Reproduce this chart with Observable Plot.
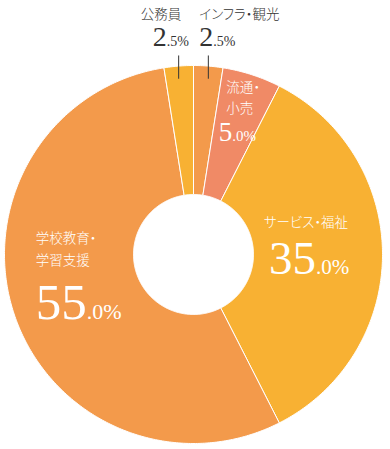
<!DOCTYPE html>
<html><head><meta charset="utf-8">
<script src="https://cdn.jsdelivr.net/npm/d3@7"></script>
<script src="https://cdn.jsdelivr.net/npm/@observablehq/plot@0.6"></script>
<style>body{margin:0;background:#fff}#chart svg{display:block}#chart text.jp{font-feature-settings:"palt"}</style>
</head><body><div id="chart"></div>
<script>
// ---- data ----
const categories = ["インフラ・観光", "流通・小売", "サービス・福祉", "学校教育・学習支援", "公務員"];
const values = [2.5, 5.0, 35.0, 55.0, 2.5];
const labelLines = [["インフラ・観光"], ["流通・", "小売"], ["サービス・福祉"], ["学校教育・", "学習支援"], ["公務員"]];
const colors = ["#F39A4B", "#F08A66", "#F8B133", "#F39A4B", "#F8B133"];

// ---- layout (not data) ----
const innerR = 60 / 189;
const layout = [
  {rho: 1.0, nameDx: -9, nameDy: -51, nameAnchor: "start", nameFill: "#333", numDx: 5, numDy: -20, big: 28, small: 14, numFill: "#333", leader: true},
  {rho: 0.75, nameDx: -11, nameDy: -32, nameAnchor: "start", nameFill: "#fff", numDx: -5, numDy: 21, big: 27, small: 15, numFill: "#fff", lineGap: 21},
  {rho: 0.6, nameDx: -1, nameDy: -32, nameAnchor: "middle", nameFill: "#fff", numDx: 9, numDy: 19, big: 47, small: 21, numFill: "#fff"},
  {rho: 0.6, nameDx: -50, nameDy: -51, nameAnchor: "start", nameFill: "#fff", numDx: 1, numDy: 29, big: 51, small: 22, numFill: "#fff", lineGap: 22},
  {rho: 1.0, nameDx: -38, nameDy: -51, nameAnchor: "start", nameFill: "#333", numDx: -12, numDy: -20, big: 28, small: 14, numFill: "#333", leader: true}
];

const arcs = d3.pie().sort(null).value(d => d)(values);
const polar = (a, r) => [r * Math.sin(a), r * Math.cos(a)];

// slice polygons
const slicePts = [];
arcs.forEach((arc, i) => {
  const n = Math.max(8, Math.ceil((arc.endAngle - arc.startAngle) * 80));
  const pts = [];
  for (let k = 0; k <= n; k++) pts.push(polar(arc.startAngle + (arc.endAngle - arc.startAngle) * k / n, 1));
  for (let k = n; k >= 0; k--) pts.push(polar(arc.startAngle + (arc.endAngle - arc.startAngle) * k / n, innerR));
  pts.push(pts[0]);
  pts.forEach(([x, y]) => slicePts.push({cat: categories[i], color: colors[i], x, y}));
});

// labels
const names = [], bigs = [], smalls = [], leaders = [];
arcs.forEach((arc, i) => {
  const L = layout[i];
  const mid = (arc.startAngle + arc.endAngle) / 2;
  const [x, y] = polar(mid, L.rho);
  labelLines[i].forEach((t, j) => names.push({x, y, t, dx: L.nameDx, dy: L.nameDy + j * (L.lineGap || 0), anchor: L.nameAnchor, fill: L.nameFill}));
  const v = values[i];
  bigs.push({x, y, t: String(Math.trunc(v)), dx: L.numDx, dy: L.numDy, size: L.big, fill: L.numFill});
  smalls.push({x, y, t: "." + v.toFixed(1).split(".")[1] + "%", dx: L.numDx, dy: L.numDy, size: L.small, fill: L.numFill});
  if (L.leader) leaders.push({x: Math.sin(mid), y1: 1.053, y2: 0.93});
});

const textMarks = [];
names.forEach(d => textMarks.push(Plot.text([d], {x: "x", y: "y", text: "t", dx: d.dx, dy: d.dy, textAnchor: d.anchor, fill: d.fill, fontSize: 13.5, fontWeight: 300, fontFamily: "'Noto Sans CJK JP', sans-serif", className: "jp"})));
bigs.forEach(d => textMarks.push(Plot.text([d], {x: "x", y: "y", text: "t", dx: d.dx, dy: d.dy, textAnchor: "end", lineAnchor: "bottom", fill: d.fill, fontSize: d.size, fontFamily: "'Liberation Serif', serif"})));
smalls.forEach(d => textMarks.push(Plot.text([d], {x: "x", y: "y", text: "t", dx: d.dx, dy: d.dy, textAnchor: "start", lineAnchor: "bottom", fill: d.fill, fontSize: d.size, fontFamily: "'Liberation Serif', serif"})));

const chart = Plot.plot({
  width: 390,
  height: 449,
  margin: 0,
  style: {background: "#fff", overflow: "visible"},
  x: {domain: [-1, 1], range: [4, 382], axis: null},
  y: {domain: [-1, 1], range: [443, 65], axis: null},
  color: {type: "identity"},
  marks: [
    Plot.line(slicePts, {x: "x", y: "y", z: "cat", fill: "color", stroke: "#fff", strokeWidth: 1, curve: "linear"}),
    Plot.link(leaders, {x1: "x", x2: "x", y1: "y1", y2: "y2", stroke: "#333", strokeWidth: 1}),
    ...textMarks
  ]
});
document.querySelectorAll; 
chart.querySelectorAll("g[aria-label='text']").forEach(g => {
  if (g.getAttribute("font-family") && g.getAttribute("font-family").includes("Noto")) g.style.fontFeatureSettings = '"palt"';
});
document.getElementById("chart").append(chart);
</script>
</body></html>
